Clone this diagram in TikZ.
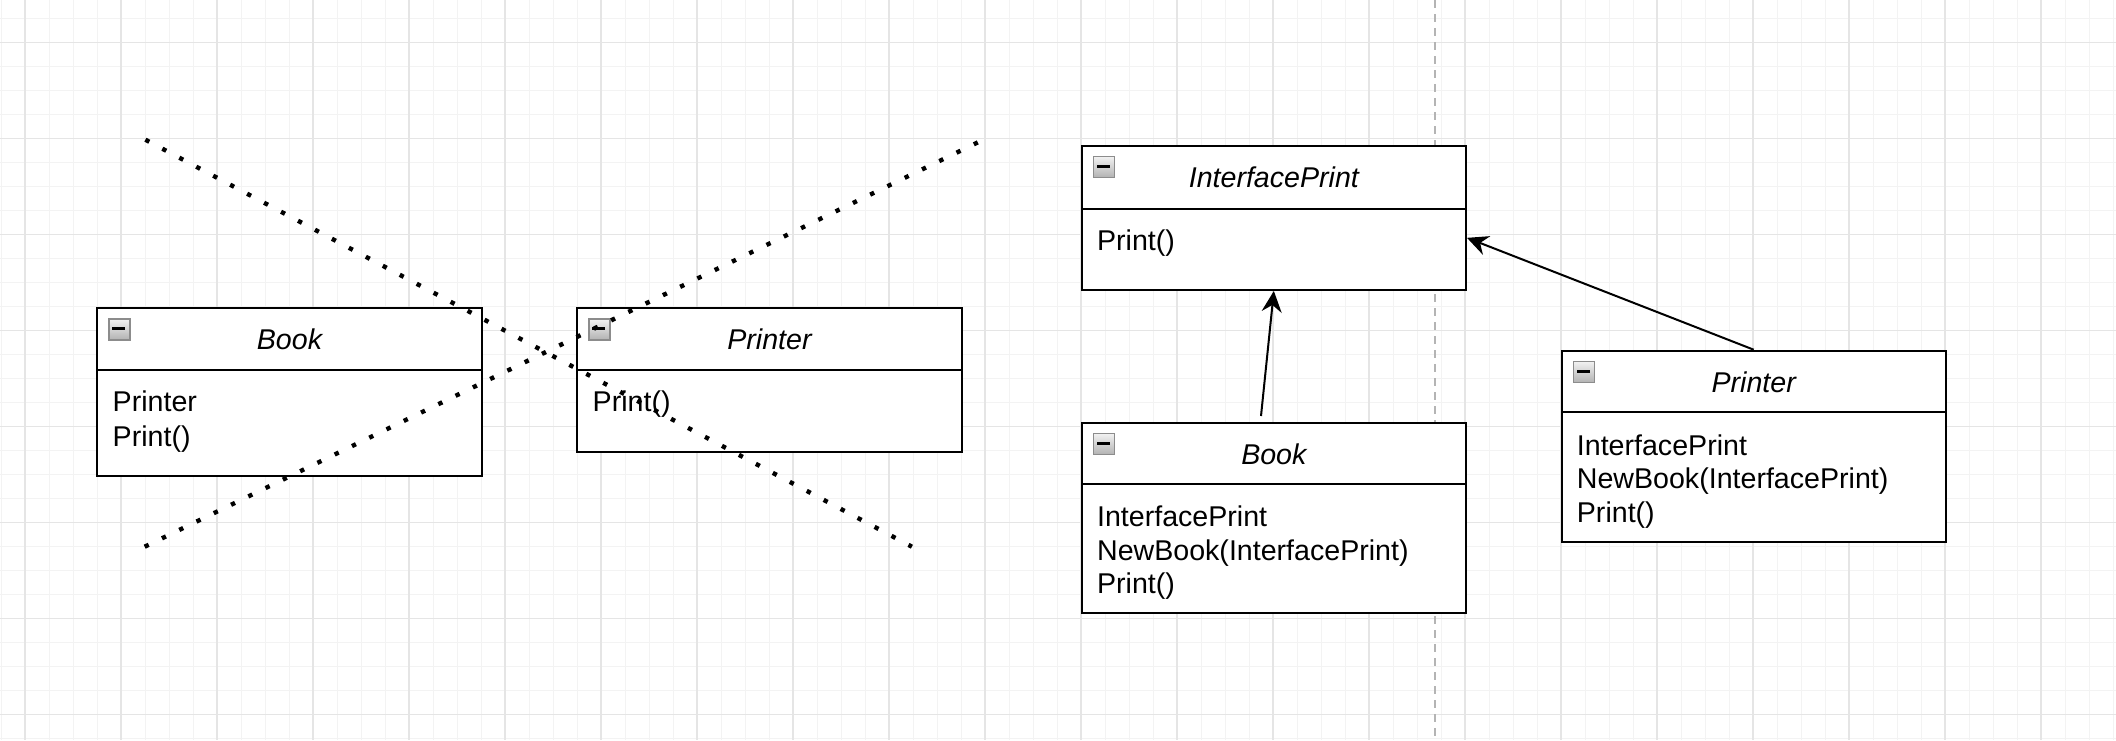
\documentclass[tikz,border=0pt]{standalone}
\usepackage{fontspec}
\setmainfont{Liberation Sans}
\usetikzlibrary{arrows.meta,fit}
\definecolor{gridminor}{HTML}{F3F3F3}
\definecolor{gridmajor}{HTML}{E5E5E5}
\definecolor{sepgray}{HTML}{B4B4B4}
\tikzset{
  classbox/.style={draw=black, fill=white, line width=1pt, inner sep=0pt},
  divider/.style={line width=1pt},
  titletext/.style={font=\fontsize{14.3pt}{16pt}\selectfont\itshape, inner sep=0pt, anchor=base},
  bodytext/.style={font=\fontsize{14.3pt}{16pt}\selectfont, inner sep=0pt, anchor=base west},
  iconbox/.style={draw=gray!90, line width=0.6pt, top color=gray!10, bottom color=gray!60, inner sep=0pt, minimum size=10.5pt, anchor=north west},
  dotline/.style={line width=2.2pt, dash pattern=on 2.2pt off 7.4pt, line cap=butt},
  assoc/.style={line width=1pt, -{Stealth[length=10.5pt,width=10pt,inset=3.5pt]}},
  sepline/.style={draw=sepgray, line width=0.7pt, dash pattern=on 4pt off 3pt},
}
\newcommand{\umlclass}[7]{%
  \node[classbox, fit={(#2,#3) (#4,#6)}] (#1) {};
  \draw[divider] (#2,#5) -- (#4,#5);
  \node[iconbox] (#1-icon) at ({#2+11},{#3+10}) {};
  \fill ({#2+15},{#3+19}) rectangle ({#2+28},{#3+22});
  \node[titletext] (#1-title) at ({(#2+#4)/2},{#3+41.5}) {#7};
}
\begin{document}
\begin{tikzpicture}[x=0.5pt,y=-0.5pt]
\useasboundingbox[fill=white] (0,0) rectangle (2116,740);
% grid
\foreach \k in {0,...,88} {\draw[gridminor, line width=0.5pt] ({1+24*\k},0) -- ({1+24*\k},740);}
\foreach \k in {0,...,30} {\draw[gridminor, line width=0.5pt] (0,{18.7+24*\k}) -- (2116,{18.7+24*\k});}
\foreach \k in {0,...,21} {\draw[gridmajor, line width=0.6pt] ({25+96*\k},0) -- ({25+96*\k},740);}
\foreach \k in {0,...,7} {\draw[gridmajor, line width=0.6pt] (0,{42.7+96*\k}) -- (2116,{42.7+96*\k});}
% page separator
\coordinate (sepTop) at (1435,0);
\coordinate (sepBot) at (1435,740);
\draw[sepline] (sepTop) -- (sepBot);

% left side
\umlclass{bookL}{97.3}{308.3}{481.7}{370}{475.7}{Book}
\node[bodytext] (bookL-l1) at (112.3,411.7) {Printer};
\node[bodytext] (bookL-l2) at (112.3,446.5) {Print()};

\umlclass{printerL}{577.3}{308.3}{961.7}{370}{452.3}{Printer}
\node[bodytext] (printerL-l1) at (592.3,411.7) {Print()};

% right side
\umlclass{iface}{1081.7}{145.7}{1466}{209}{290}{InterfacePrint}
\node[bodytext] (iface-l1) at (1096.7,250.7) {Print()};

\umlclass{bookR}{1081.7}{422.7}{1466}{484.3}{613.3}{Book}
\node[bodytext] (bookR-l1) at (1096.7,526.7) {InterfacePrint};
\node[bodytext] (bookR-l2) at (1096.7,560.2) {NewBook(InterfacePrint)};
\node[bodytext] (bookR-l3) at (1096.7,593.7) {Print()};

\umlclass{printerR}{1561.7}{350.7}{1945.7}{412.3}{541.7}{Printer}
\node[bodytext] (printerR-l1) at (1576.5,455) {InterfacePrint};
\node[bodytext] (printerR-l2) at (1576.5,488.5) {NewBook(InterfacePrint)};
\node[bodytext] (printerR-l3) at (1576.5,522) {Print()};

% connectors
\coordinate (bookR-src) at (1261,416);
\draw[assoc] (bookR-src) -- (iface.south);
\draw[assoc] (printerR.north) -- ([yshift=-10pt]iface.east);

% crossing dotted lines
\coordinate (xA1) at (145.4,139.7);
\coordinate (xA2) at (911.9,546.7);
\coordinate (xB1) at (144.7,546.7);
\coordinate (xB2) at (978,142.3);
\draw[dotline] (xA1) -- (xA2);
\draw[dotline] (xB1) -- (xB2);
\end{tikzpicture}
\end{document}
